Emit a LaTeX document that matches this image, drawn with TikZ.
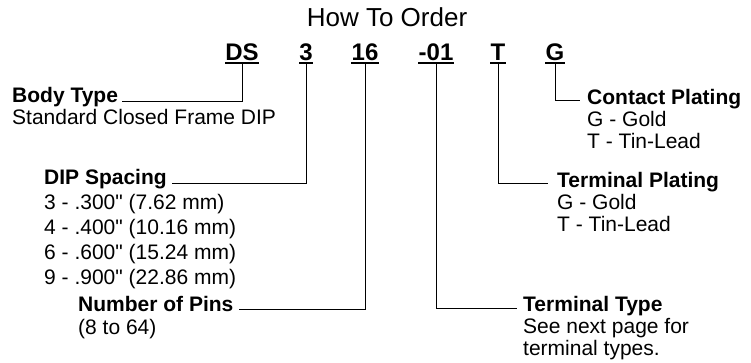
\documentclass[tikz,border=0pt]{standalone}
\usepackage{fontspec}
\setmainfont{Liberation Sans}
\newfontfamily\plainsans{Liberation Sans}
\usetikzlibrary{positioning}
\newcommand{\inch}{{\plainsans\char34}}

\begin{document}
\begin{tikzpicture}[x=1pt,y=-1pt,
            code/.style={font=\fontsize{24}{28}\selectfont\bfseries, inner sep=0pt, anchor=base},
            head/.style={font=\fontsize{21}{25}\selectfont\bfseries, inner sep=0pt, anchor=base west},
            info/.style={font=\fontsize{21}{25}\selectfont, inner sep=0pt, anchor=base west},
            lead/.style={line width=0.8pt}]
    \useasboundingbox (0,0) rectangle (751,362);

    \node[font=\fontsize{26}{30}\selectfont, anchor=base] (title) at (387,26) {How To Order};

    % part number fields
    \node[code] (ds)   at (242,60) {DS};
    \node[code] (sp)   at (306,60) {3};
    \node[code] (pins) at (365,60) {16};
    \node[code] (tt)   at (436,60) {-01};
    \node[code] (tp)   at (498,60) {T};
    \node[code] (cp)   at (555,60) {G};
    \foreach \f in {ds,sp,pins,tt,tp,cp}
        \draw[line width=1.5pt] ([yshift=-3pt]\f.base west) -- ([yshift=-3pt]\f.base east);

    % left side
    \node[head] (body) at (12,102) {Body Type};
    \node[info] (body1) at (12,124) {Standard Closed Frame DIP};

    \node[head] (dip) at (44,184) {DIP Spacing};
    \foreach \t [count=\i] in {3 - .300\inch{} (7.62 mm), 4 - .400\inch{} (10.16 mm),
                               6 - .600\inch{} (15.24 mm), 9 - .900\inch{} (22.86 mm)}
        \node[info] (dip\i) at (44,184+25*\i) {\t};

    \node[head] (num) at (78,311) {Number of Pins};
    \node[info] (num1) at (78,334) {(8 to 64)};

    % right side
    \node[head] (cpl) at (587,104) {Contact Plating};
    \node[info] (cpl1) at (587,126) {G - Gold};
    \node[info] (cpl2) at (587,148) {T - Tin-Lead};

    \node[head] (tpl) at (557,187) {Terminal Plating};
    \node[info] (tpl1) at (557,209) {G - Gold};
    \node[info] (tpl2) at (557,231) {T - Tin-Lead};

    \node[head] (typ) at (523,311) {Terminal Type};
    \node[info] (typ1) at (523,333) {See next page for};
    \node[info] (typ2) at (523,355) {terminal types.};

    % leaders
    \draw[lead] ([yshift=-3pt]ds.base)   |- ([shift={(4pt,1pt)}]body.base east);
    \draw[lead] ([yshift=-3pt]sp.base)   |- ([shift={(5pt,1pt)}]dip.base east);
    \draw[lead] ([yshift=-3pt]pins.base) |- ([shift={(5pt,2pt)}]num.base east);
    \draw[lead] ([yshift=-3pt]cp.base)   |- ([shift={(-7pt,4pt)}]cpl.base west);
    \draw[lead] ([yshift=-3pt]tp.base)   |- ([shift={(-9pt,4pt)}]tpl.base west);
    \draw[lead] ([yshift=-3pt]tt.base)   |- ([shift={(-6pt,3pt)}]typ.base west);
\end{tikzpicture}
\end{document}
